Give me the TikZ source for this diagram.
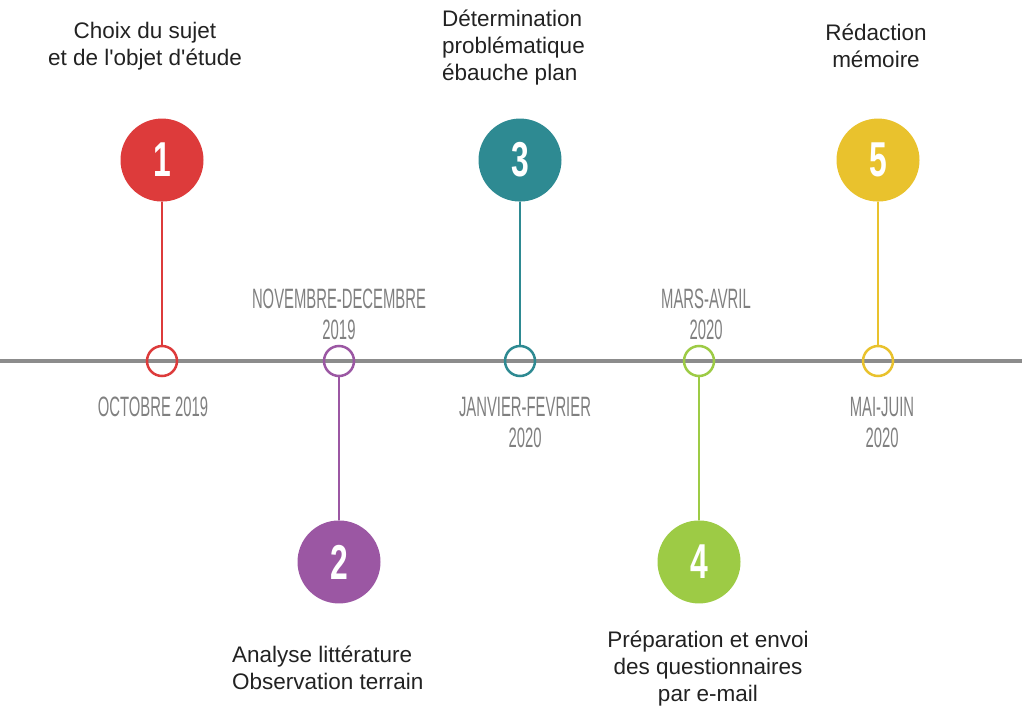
\documentclass[tikz,border=0pt]{standalone}
\usepackage{fontspec}
\setmainfont{Liberation Sans}
\newfontfamily\datefont[FakeStretch=0.53]{Liberation Sans}
\newfontfamily\numfont[FakeStretch=0.65]{Liberation Sans}
\usetikzlibrary{positioning}

\definecolor{stagered}{RGB}{221,59,59}
\definecolor{stagepurple}{RGB}{155,87,163}
\definecolor{stageteal}{RGB}{46,138,146}
\definecolor{stagelime}{RGB}{157,203,69}
\definecolor{stageyellow}{RGB}{233,194,45}
\definecolor{axisgray}{RGB}{140,140,140}
\definecolor{dategray}{RGB}{128,128,128}
\definecolor{titlegray}{RGB}{34,34,34}

\tikzstyle{stage} = [circle, minimum size=83pt, inner sep=0pt, text=white,
font=\numfont\bfseries\fontsize{49}{49}\selectfont]
\tikzstyle{datepoint} = [circle, minimum size=30pt, inner sep=0pt, line width=2.5pt]
\tikzstyle{stem} = [line width=2.5pt]
\tikzstyle{title} = [inner sep=0pt, text=titlegray, font=\fontsize{22.5}{27}\selectfont]
\tikzstyle{datelabel} = [inner sep=0pt, text=dategray, align=center,
font=\datefont\fontsize{28}{31}\selectfont]

\begin{document}
\begin{tikzpicture}[x=1pt, y=-1pt]
    \useasboundingbox (0,0) rectangle (1022,712);

    % timeline
    \coordinate (axisL) at (0,361);
    \coordinate (axisR) at (1022,361);
    \draw [axisgray, line width=4pt] (axisL) -- (axisR);

    \node (d1) [datepoint, draw=stagered]    at (162,361) {};
    \node (d2) [datepoint, draw=stagepurple] at (339,361) {};
    \node (d3) [datepoint, draw=stageteal]   at (520,361) {};
    \node (d4) [datepoint, draw=stagelime]   at (699,361) {};
    \node (d5) [datepoint, draw=stageyellow] at (878,361) {};

    \node (s1) [stage, fill=stagered,    above=143pt of d1] {1};
    \node (s2) [stage, fill=stagepurple, below=143pt of d2] {2};
    \node (s3) [stage, fill=stageteal,   above=143pt of d3] {3};
    \node (s4) [stage, fill=stagelime,   below=143pt of d4] {4};
    \node (s5) [stage, fill=stageyellow, above=143pt of d5] {5};

    \draw [stem, stagered]    (s1) -- (d1);
    \draw [stem, stagepurple] (d2) -- (s2);
    \draw [stem, stageteal]   (s3) -- (d3);
    \draw [stem, stagelime]   (d4) -- (s4);
    \draw [stem, stageyellow] (s5) -- (d5);

    % dates
    \node (date1) [datelabel] at (153,407) {OCTOBRE 2019};
    \node (date2) [datelabel] at (339,314) {NOVEMBRE-DECEMBRE\\2019};
    \node (date3) [datelabel] at (525,422) {JANVIER-FEVRIER\\2020};
    \node (date4) [datelabel] at (706,314) {MARS-AVRIL\\2020};
    \node (date5) [datelabel] at (882,422) {MAI-JUIN\\2020};

    % stages
    \node (t1) [title, align=center] at (145,46) {Choix du sujet\\et de l\textquotesingle objet d\textquotesingle étude};
    \node (t2) [title, align=left, anchor=west] at (232,668) {Analyse littérature\\Observation terrain};
    \node (t3) [title, align=left, anchor=west] at (442,48) {Détermination\\problématique\\ébauche plan};
    \node (t4) [title, align=center] at (708,669) {Préparation et envoi\\des questionnaires\\par e-mail};
    \node (t5) [title, align=center] at (876,46) {Rédaction\\mémoire};
\end{tikzpicture}
\end{document}
